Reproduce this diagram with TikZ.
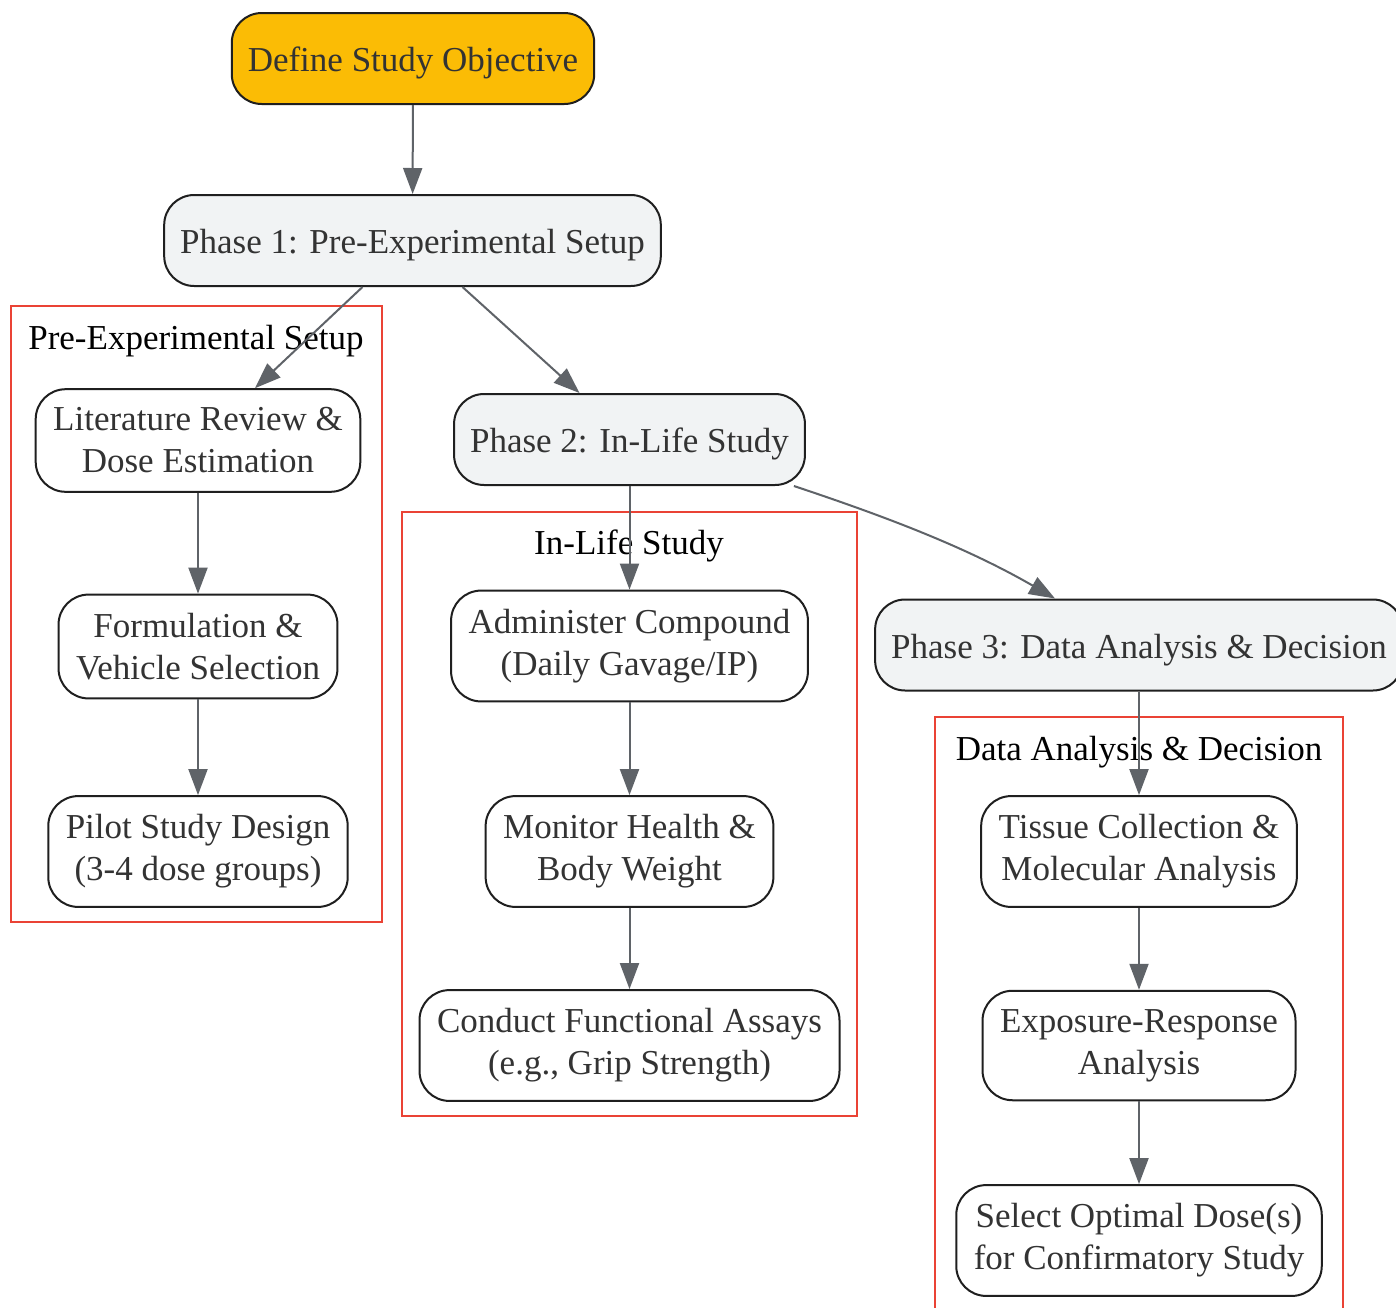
\documentclass[tikz,border=0pt]{standalone}
\usepackage{fontspec}
\setmainfont{Liberation Serif}
\usetikzlibrary{arrows.meta}
\definecolor{amber}{HTML}{FBBC05}
\definecolor{paper}{HTML}{F1F3F4}
\definecolor{cluster}{HTML}{EA4335}
\definecolor{wire}{HTML}{5F6368}
\definecolor{ink}{HTML}{333333}
\tikzstyle{box}=[draw=black!88, line width=2pt, rounded corners=30pt, align=center, text=ink, font=\fontsize{35}{42}\selectfont, inner xsep=16pt, minimum height=91pt]
\tikzstyle{goal}=[box, fill=amber, text height=34pt, text depth=8pt]
\tikzstyle{phase}=[box, fill=paper, text height=34pt, text depth=8pt]
\tikzstyle{task}=[box, fill=white, inner xsep=17.5pt, inner ysep=18.5pt]
\tikzstyle{group}=[draw=cluster, line width=2pt]
\tikzstyle{grouplabel}=[font=\fontsize{35}{42}\selectfont, text=black]
\tikzstyle{flow}=[draw=wire, line width=2pt, -{Triangle[length=26pt, width=19pt]}]

\begin{document}
\begin{tikzpicture}[x=1pt, y=-1pt]
          \path[use as bounding box, fill=white] (0, 0) rectangle (1396, 1307);
          \draw[group] (11, 306) rectangle (382, 922);
          \draw[group] (402, 512) rectangle (857, 1116);
          \draw[group] (935, 717) rectangle (1343, 1330);
          \node[grouplabel] (setuplabel) at (196, 341) {Pre-Experimental Setup};
          \node[grouplabel] (lifelabel) at (629, 546) {In-Life Study};
          \node[grouplabel] (analysislabel) at (1139, 752) {Data Analysis \& Decision};
          \node[goal] (objective) at (413, 58.5) {Define Study Objective};
          \node[phase] (phaseone) at (412.5, 240.5) {Phase 1: Pre-Experimental Setup};
          \node[phase] (phasetwo) at (629.5, 439.5) {Phase 2: In-Life Study};
          \node[phase] (phasethree) at (1139, 645) {Phase 3: Data Analysis \& Decision};
          \node[task] (litreview) at (198, 440.5) {Literature Review \&\\Dose Estimation};
          \node[task] (formulation) at (198, 646.5) {Formulation \&\\Vehicle Selection};
          \node[task] (pilot) at (198, 851.5) {Pilot Study Design\\(3-4 dose groups)};
          \node[task] (dosing) at (629.5, 646) {Administer Compound\\(Daily Gavage/IP)};
          \node[task] (monitor) at (629.5, 851.5) {Monitor Health \&\\Body Weight};
          \node[task] (assays) at (629.5, 1045.5) {Conduct Functional Assays\\(e.g., Grip Strength)};
          \node[task] (tissue) at (1139, 851.5) {Tissue Collection \&\\Molecular Analysis};
          \node[task] (exposure) at (1139, 1045.5) {Exposure-Response\\Analysis};
          \node[task] (select) at (1139, 1240.5) {Select Optimal Dose(s)\\for Confirmatory Study};
          \draw[flow] (objective) -- (phaseone);
          \draw[flow] ([xshift=-50pt]phaseone.south) -- ([xshift=57pt]litreview.north);
          \draw[flow] ([xshift=50pt]phaseone.south) -- ([xshift=-50pt]phasetwo.north);
          \draw[flow] (litreview) -- (formulation);
          \draw[flow] (formulation) -- (pilot);
          \draw[flow] (phasetwo) -- (dosing);
          \draw[flow] ([xshift=-12pt]phasetwo.south east)
            .. controls +(90, 30) and +(-90, -52) .. ([xshift=-84pt]phasethree.north);
          \draw[flow] (dosing) -- (monitor);
          \draw[flow] (monitor) -- (assays);
          \draw[flow] (phasethree) -- (tissue);
          \draw[flow] (tissue) -- (exposure);
          \draw[flow] (exposure) -- (select);
        \end{tikzpicture}
\end{document}
